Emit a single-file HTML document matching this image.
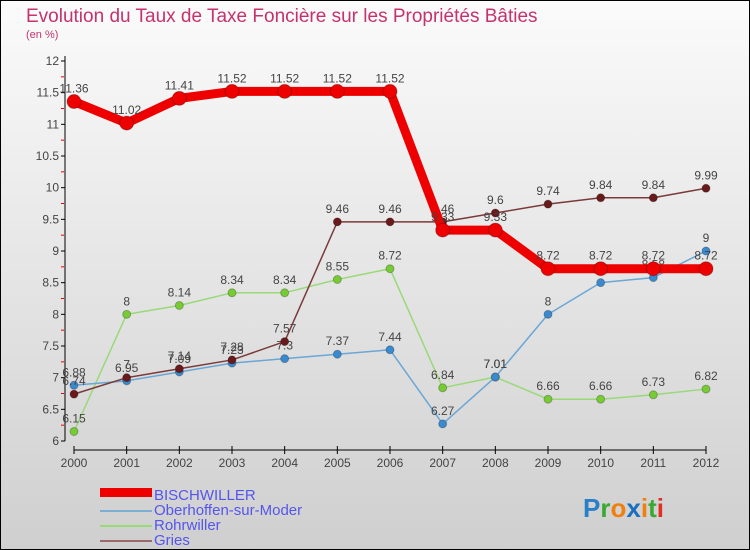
<!DOCTYPE html>
<html><head><meta charset="utf-8"><style>
body{margin:0;width:750px;height:550px;overflow:hidden;font-family:"Liberation Sans",sans-serif}
svg{display:block}
</style></head><body>
<svg id="c" width="750" height="550" xmlns="http://www.w3.org/2000/svg">
<defs>
<linearGradient id="bg" x1="0" y1="0" x2="0" y2="1"><stop offset="0" stop-color="#fbfbfb"/><stop offset="1" stop-color="#cfcfcf"/></linearGradient>
</defs>
<rect x="0.5" y="0.5" width="749" height="549" fill="url(#bg)" stroke="#000"/>
<text x="26" y="22" font-size="19" fill="#c5326e">Evolution du Taux de Taxe Foncière sur les Propriétés Bâties</text>
<text x="26" y="38" font-size="11" fill="#c5326e">(en %)</text>
<g id="axes"></g><g id="series"></g>
<g font-size="15" fill="#5555ee">
<rect x="100" y="488" width="52" height="9" fill="#e00"/>
<text x="154" y="500">BISCHWILLER</text>
<rect x="100" y="510" width="52" height="2" fill="#7aaed4"/>
<text x="154" y="515">Oberhoffen-sur-Moder</text>
<rect x="100" y="525" width="52" height="2" fill="#99d977"/>
<text x="154" y="530">Rohrwiller</text>
<rect x="100" y="540" width="52" height="2" fill="#9a6a6a"/>
<text x="154" y="545">Gries</text>
</g>
<g font-size="26" font-weight="bold">
<text x="583" y="517"><tspan fill="#2a7fc9">P</tspan><tspan fill="#3aa832">r</tspan><tspan fill="#f07f10">o</tspan><tspan fill="#1a6fc0">x</tspan><tspan fill="#f07f10">i</tspan><tspan fill="#3aa832">t</tspan><tspan fill="#e03020">i</tspan></text>
</g>
</svg>
<script>
const years=[2000,2001,2002,2003,2004,2005,2006,2007,2008,2009,2010,2011,2012];
const yTicks=[6,6.5,7,7.5,8,8.5,9,9.5,10,10.5,11,11.5,12];
const bischwiller=[11.36,11.02,11.41,11.52,11.52,11.52,11.52,9.33,9.33,8.72,8.72,8.72,8.72];
const oberhoffen=[6.88,6.95,7.09,7.23,7.3,7.37,7.44,6.27,7.01,8,8.5,8.58,9];
const rohrwiller=[6.15,8,8.14,8.34,8.34,8.55,8.72,6.84,7.01,6.66,6.66,6.73,6.82];
const gries=[6.74,7,7.14,7.28,7.57,9.46,9.46,9.46,9.6,9.74,9.84,9.84,9.99];
const NS="http://www.w3.org/2000/svg";
const xS=i=>74+i*(706-74)/(years.length-1);
const yS=v=>441-(v-6)*(441-61)/6;
function mk(t,a,p){const e=document.createElementNS(NS,t);for(const k in a)e.setAttribute(k,a[k]);p.appendChild(e);return e;}
const ax=document.getElementById('axes');
let l=mk('line',{x1:65,y1:56,x2:65,y2:441,stroke:'#000'},ax);


l=mk('line',{x1:74,y1:450,x2:706,y2:450,stroke:'#000'},ax);


yTicks.forEach((v,i)=>{
 const y=yS(v);
 mk('line',{x1:61,y1:y,x2:65,y2:y,stroke:'#000'},ax);
 if(i<yTicks.length-1)mk('line',{x1:61,y1:yS(v+0.25),x2:64,y2:yS(v+0.25),stroke:'#e00'},ax);
 const t=mk('text',{x:59,y:y+4,'text-anchor':'end','font-size':12,fill:'#444'},ax);
 t.textContent=String(v);
 
 
});
years.forEach((yr,i)=>{
 const x=xS(i);
 mk('line',{x1:x,y1:446,x2:x,y2:454,stroke:'#000'},ax);
 const t=mk('text',{x:x,y:467,'text-anchor':'middle','font-size':12,fill:'#444'},ax);
 t.textContent=String(yr);
 
 
});
const sg=document.getElementById('series');
function draw(vals,name,color,w,r,dot){
 const g=mk('g',{},sg);
 
 
 const p=mk('polyline',{points:vals.map((v,i)=>xS(i)+','+yS(v)).join(' '),fill:'none',stroke:color,'stroke-width':w,'stroke-linejoin':'round'},g);
 
 
 vals.forEach((v,i)=>{
  const c=mk('circle',{cx:xS(i),cy:yS(v),r:r,fill:dot,stroke:'rgba(0,0,0,0.25)'},g);
  
  
  const t=mk('text',{x:xS(i),y:yS(v)-9,'text-anchor':'middle','font-size':12,fill:'#444'},g);
  t.textContent=String(v);
  
  
 });
}
draw(rohrwiller,'rohrwiller','#99d977',1.5,4,'#77cc33');
draw(oberhoffen,'oberhoffen','#6aa6d6',1.5,4,'#3a8ad0');
draw(gries,'gries','#7a3a3a',1.5,4,'#6a1a1a');
draw(bischwiller,'bischwiller','#ee0000',9,7,'#ee0000');
</script>
</body></html>
